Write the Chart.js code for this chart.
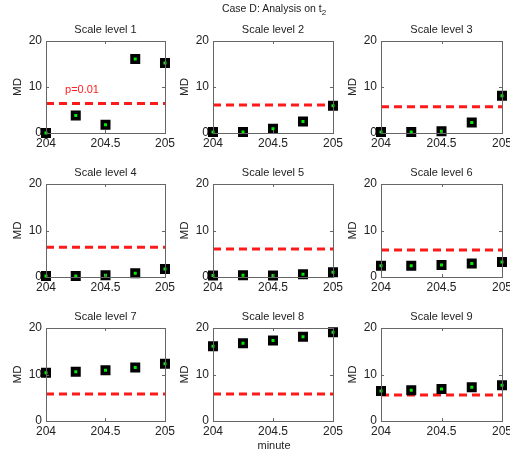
<!DOCTYPE html>
<html>
<head>
<meta charset="utf-8">
<script src="https://cdn.jsdelivr.net/npm/chart.js@4/dist/chart.umd.min.js"></script>
<style>
    html, body { margin: 0; background: #fff; overflow: hidden; }
    #wrap { position: relative; width: 510px; height: 453px; overflow: hidden; font-family: "Liberation Sans", Arial, sans-serif; color: #222; }
    #wrap canvas { position: absolute; }
    .label { position: absolute; text-align: center; white-space: nowrap; z-index: 2; }
    .label sub { font-size: 8px; vertical-align: -3px; }
</style>
</head>
<body>
<div id="wrap"></div>
<script>
// x positions (minutes) shared by all panels
const minutes = [204, 204.25, 204.5, 204.75, 205];
const xTicks = [204, 204.5, 205];
const yTicks = [0, 10, 20];

// MD values for each scale level
const level1 = [0, 3.8, 1.8, 16.1, 15.2];
const level2 = [0.2, 0.2, 0.9, 2.5, 5.9];
const level3 = [0.2, 0.2, 0.4, 2.3, 8.1];
const level4 = [0.2, 0.2, 0.4, 0.8, 1.7];
const level5 = [0.3, 0.4, 0.3, 0.6, 1.0];
const level6 = [2.4, 2.4, 2.6, 2.9, 3.2];
const level7 = [10.4, 10.6, 10.9, 11.5, 12.3];
const level8 = [16.1, 16.7, 17.3, 18.1, 19.1];
const level9 = [6.45, 6.6, 6.9, 7.25, 7.7];

// p=0.01 threshold per level
const thresholds = [6.4, 6.1, 5.7, 6.4, 6.0, 5.8, 5.8, 5.8, 5.6];
const pLabel = 'p=0.01';

const levels = [level1, level2, level3, level4, level5, level6, level7, level8, level9];

// page layout: canvas strips and plot boxes
const colBounds = [0, 178, 346, 530];
const rowBounds = [0, 158, 302, 453];
const colLeft = [46, 213, 381];
const rowTop = [41, 184, 328];
const plotW = 121;
const plotH = [92, 93, 93];

const axisColor = '#666';
const textColor = '#222';
const fontFamily = '"Liberation Sans", Arial, sans-serif';

// Matlab-like boxed axes with inward ticks, panel title and "MD" label
const boxPlugin = {
    id: 'box',
    afterDatasetsDraw(chart) {
        const { ctx, chartArea: a, scales: { x, y } } = chart;
        ctx.save();
        ctx.strokeStyle = axisColor;
        ctx.lineWidth = 1;
        ctx.strokeRect(Math.round(a.left) + 0.5, Math.round(a.top) + 0.5, Math.round(a.right - a.left), Math.round(a.bottom - a.top));
        ctx.beginPath();
        xTicks.forEach(v => {
            const px = Math.round(x.getPixelForValue(v)) + 0.5;
            ctx.moveTo(px, a.bottom); ctx.lineTo(px, a.bottom - 3);
            ctx.moveTo(px, a.top); ctx.lineTo(px, a.top + 3);
        });
        yTicks.forEach(v => {
            const py = Math.round(y.getPixelForValue(v)) + 0.5;
            ctx.moveTo(a.left, py); ctx.lineTo(a.left + 3, py);
            ctx.moveTo(a.right, py); ctx.lineTo(a.right - 3, py);
        });
        ctx.stroke();
        ctx.restore();
    },
    afterDraw(chart) {
        const { ctx, chartArea: a } = chart;
        const opts = chart.options.plugins.box;
        ctx.save();
        ctx.fillStyle = textColor;
        ctx.textAlign = 'center';
        ctx.textBaseline = 'middle';
        ctx.font = '11px ' + fontFamily;
        ctx.fillText(opts.title, (a.left + a.right) / 2, a.top - 11.5);
        ctx.translate(a.left - 28, (a.top + a.bottom) / 2);
        ctx.rotate(-Math.PI / 2);
        ctx.font = '11.5px ' + fontFamily;
        ctx.fillText('MD', 0, 0);
        ctx.restore();
    }
};

// text annotation for the threshold in the first panel
const pTextPlugin = {
    id: 'ptext',
    afterDraw(chart) {
        if (!chart.options.plugins.ptext.show) return;
        const { ctx, scales: { x, y } } = chart;
        ctx.save();
        ctx.fillStyle = '#ff2020';
        ctx.font = '11px ' + fontFamily;
        ctx.textAlign = 'left';
        ctx.textBaseline = 'middle';
        ctx.fillText(pLabel, x.getPixelForValue(204.16), y.getPixelForValue(9.4));
        ctx.restore();
    }
};

const wrap = document.getElementById('wrap');

levels.forEach((values, i) => {
    const col = i % 3, row = Math.floor(i / 3);
    const x0 = colBounds[col], x1 = colBounds[col + 1];
    const y0 = rowBounds[row], y1 = rowBounds[row + 1];
    const leftSpace = colLeft[col] - x0;
    const rightSpace = x1 - (colLeft[col] + plotW);
    const topSpace = rowTop[row] - y0;
    const bottomSpace = y1 - (rowTop[row] + plotH[row]);

    const canvas = document.createElement('canvas');
    canvas.width = x1 - x0;
    canvas.height = y1 - y0;
    canvas.style.left = x0 + 'px';
    canvas.style.top = y0 + 'px';
    wrap.appendChild(canvas);

    new Chart(canvas.getContext('2d'), {
        type: 'scatter',
        data: {
            datasets: [{
                data: minutes.map((m, k) => ({ x: m, y: values[k] })),
                pointStyle: 'rect',
                pointRadius: 4.6,
                pointBorderWidth: 3.5,
                pointBackgroundColor: '#00ee00',
                pointBorderColor: '#000',
                clip: false
            }, {
                data: [{ x: 204, y: thresholds[i] }, { x: 205, y: thresholds[i] }],
                showLine: true,
                borderColor: '#ff1a1a',
                borderWidth: 3,
                borderDash: [8, 5],
                pointRadius: 0
            }]
        },
        options: {
            responsive: false,
            animation: false,
            events: [],
            layout: { padding: { left: 0, right: rightSpace, top: topSpace, bottom: 0 } },
            plugins: {
                legend: { display: false },
                tooltip: { enabled: false },
                title: { display: false },
                box: { title: 'Scale level ' + (i + 1) },
                ptext: { show: i === 0 }
            },
            scales: {
                x: {
                    type: 'linear',
                    min: 204, max: 205,
                    afterBuildTicks: s => { s.ticks = xTicks.map(v => ({ value: v })); },
                    afterFit: s => { s.height = bottomSpace; },
                    grid: { display: false, drawTicks: false },
                    border: { display: false },
                    ticks: {
                        padding: 3,
                        color: textColor,
                        font: { family: fontFamily, size: 12 },
                        maxRotation: 0,
                        autoSkip: false,
                        callback: v => String(v)
                    }
                },
                y: {
                    type: 'linear',
                    min: 0, max: 20,
                    afterBuildTicks: s => { s.ticks = yTicks.map(v => ({ value: v })); },
                    afterFit: s => { s.width = leftSpace; },
                    grid: { display: false, drawTicks: false },
                    border: { display: false },
                    ticks: {
                        padding: 4,
                        color: textColor,
                        font: { family: fontFamily, size: 12 },
                        autoSkip: false
                    }
                }
            }
        },
        plugins: [boxPlugin, pTextPlugin]
    });
});

// figure title and shared x label
const title = document.createElement('div');
title.className = 'label';
title.style.cssText = 'left:174px; width:200px; top:1px; font-size:10.5px; line-height:14px;';
title.innerHTML = 'Case D: Analysis on t<sub>2</sub>';
wrap.appendChild(title);

const xLabel = document.createElement('div');
xLabel.className = 'label';
xLabel.style.cssText = 'left:224px; width:100px; top:438px; font-size:11px; line-height:14px;';
xLabel.textContent = 'minute';
wrap.appendChild(xLabel);
</script>
</body>
</html>
